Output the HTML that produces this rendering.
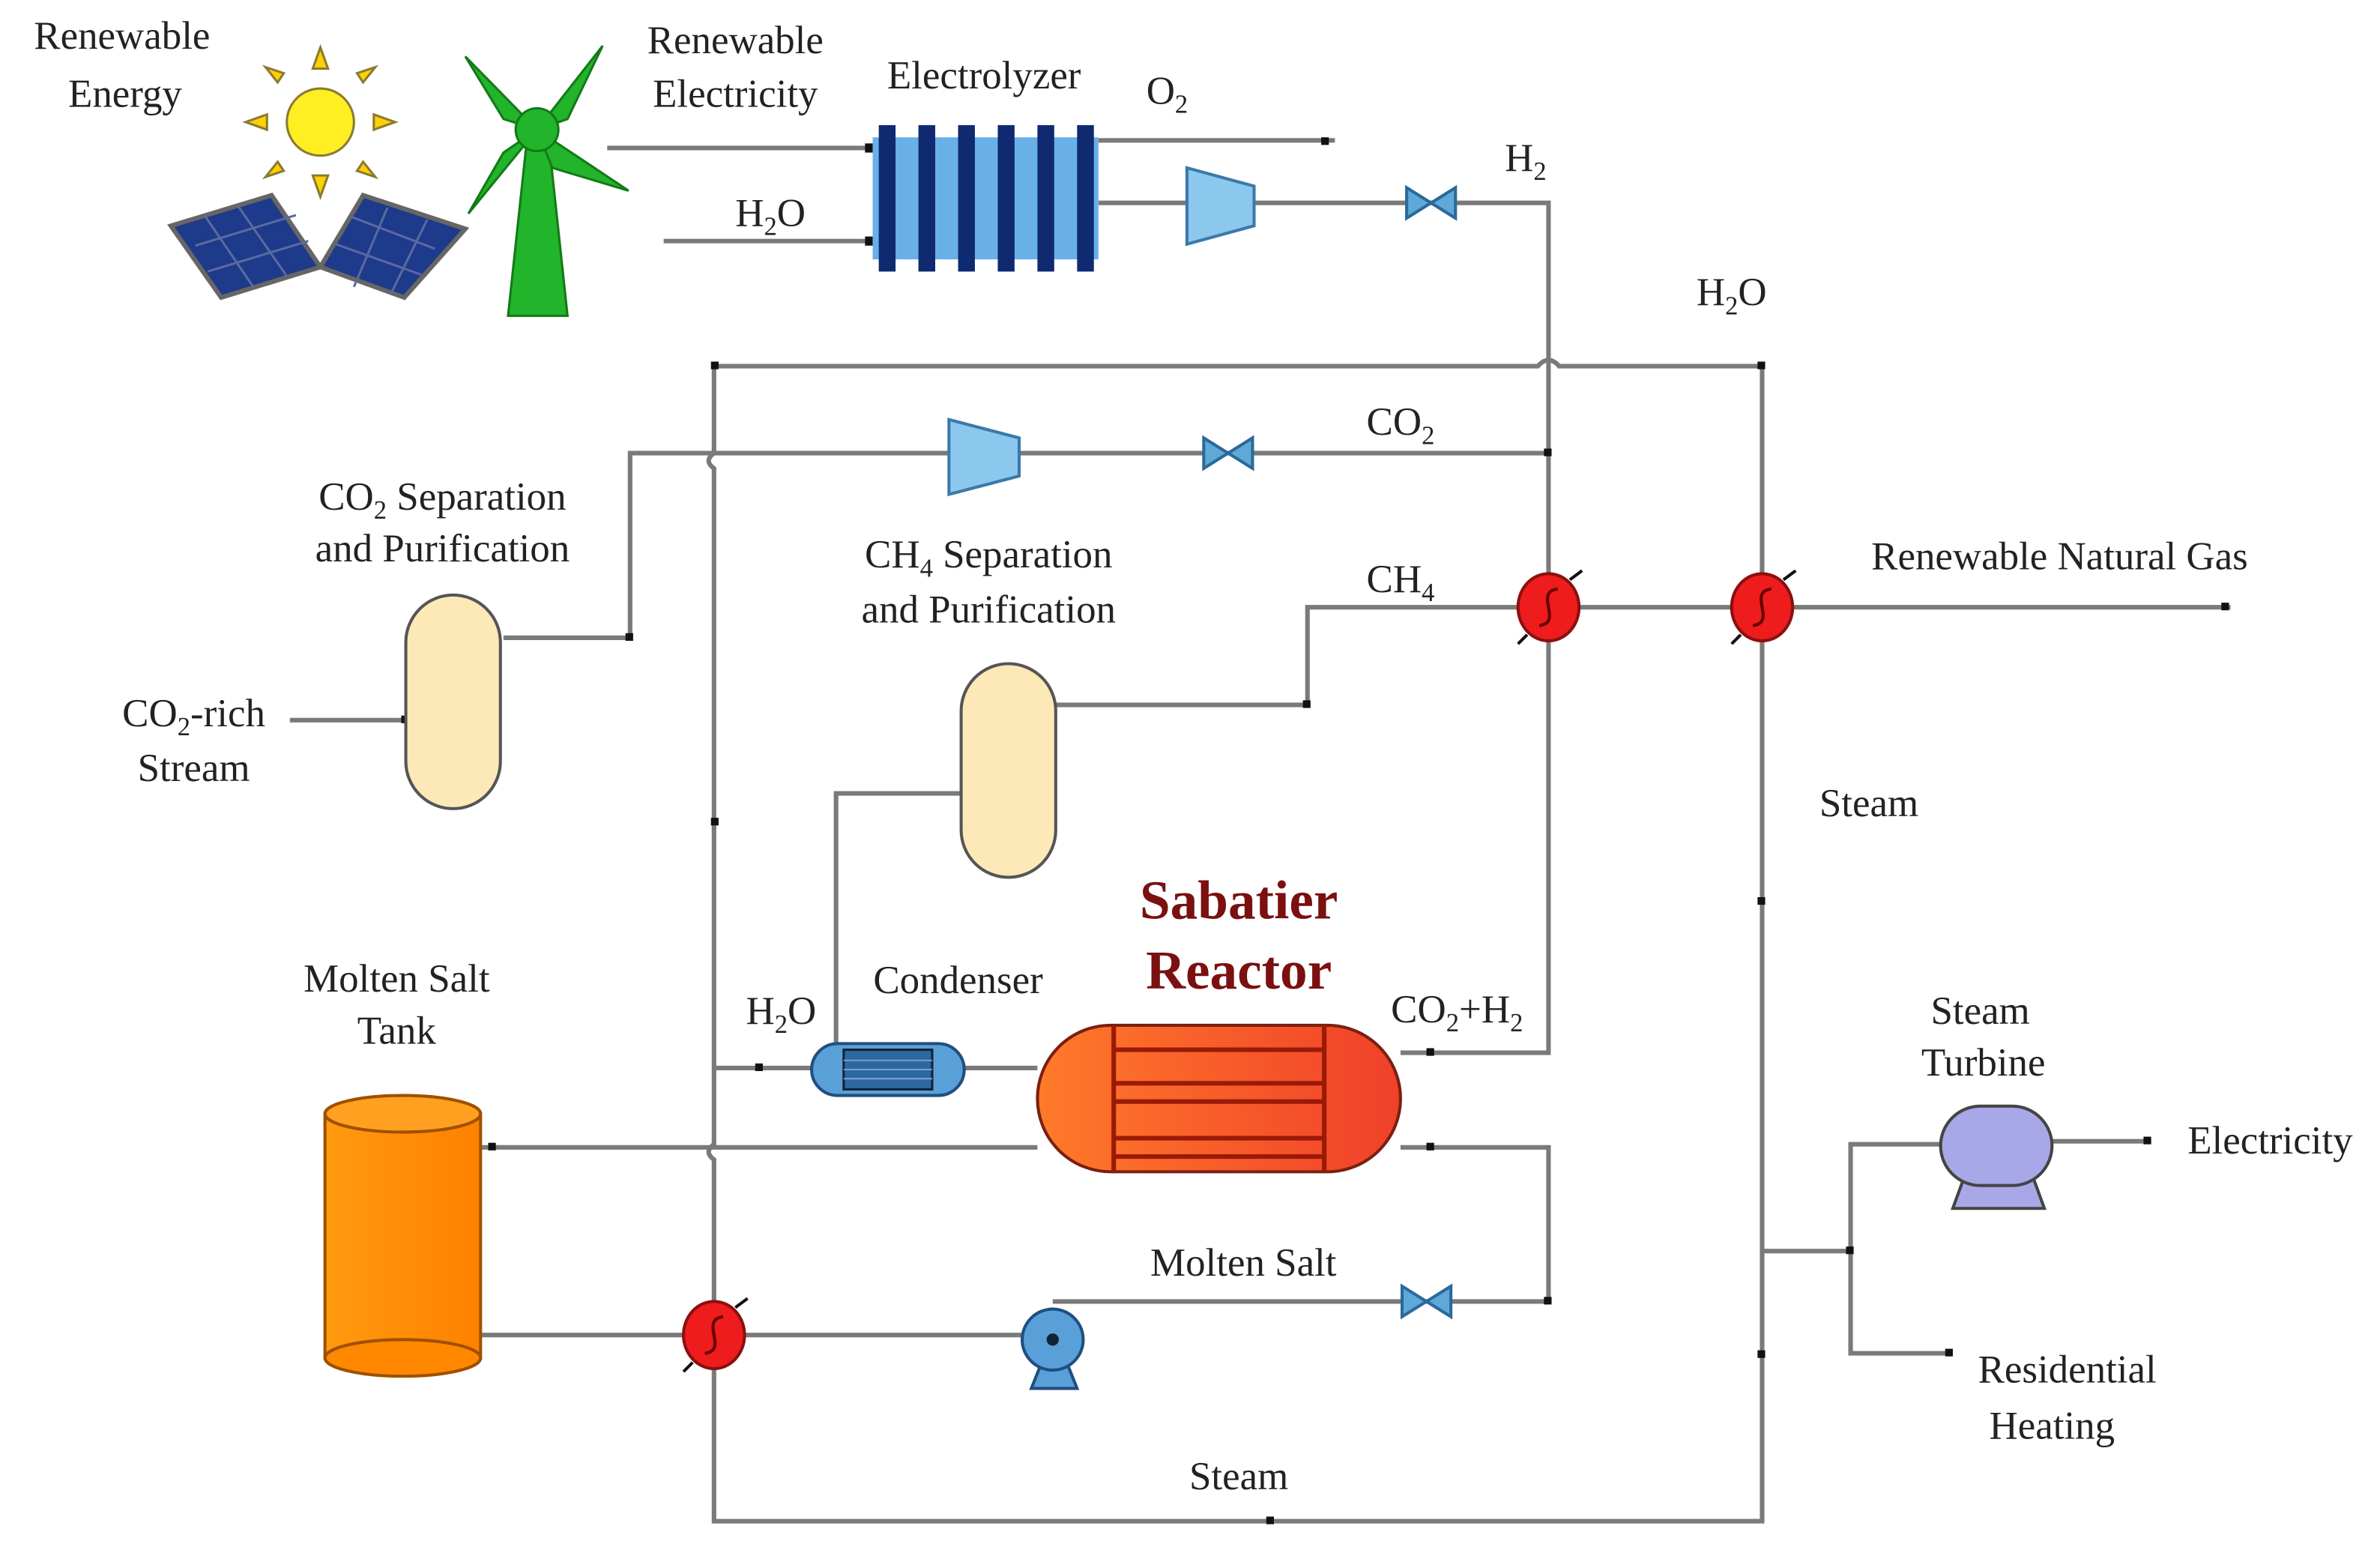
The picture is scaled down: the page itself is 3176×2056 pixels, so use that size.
<!DOCTYPE html>
<html><head><meta charset="utf-8"><style>
html,body{margin:0;padding:0;background:#fff;}
svg{display:block;}
text{font-family:"Liberation Serif",serif;font-size:26px;fill:#222;text-anchor:middle;}
.l{stroke:#7a7a7a;stroke-width:3;fill:none;}
</style></head><body>
<svg width="3176" height="2056" viewBox="0 0 1560 1010" preserveAspectRatio="none" xmlns="http://www.w3.org/2000/svg">
<defs>
<linearGradient id="rg" x1="0" x2="1"><stop offset="0" stop-color="#ff7a2a"/><stop offset="1" stop-color="#f0402a"/></linearGradient>
<linearGradient id="og" x1="0" x2="1"><stop offset="0" stop-color="#ff9a10"/><stop offset="1" stop-color="#ff8000"/></linearGradient>
<g id="hx"><ellipse cx="0" cy="0" rx="20" ry="22" fill="#ee1c1c" stroke="#8a1010" stroke-width="2"/><path d="M6,-12 C-10,-10 10,10 -6,12" stroke="#600" stroke-width="2" fill="none"/><path d="M14,-18 l8,-6 M-14,18 l-6,6" stroke="#111" stroke-width="2"/></g>
<g id="v"><path d="M-16,-10 L16,10 L16,-10 L-16,10 Z" fill="#5fa8d8" stroke="#2a6a9a" stroke-width="2"/></g>
</defs>

<text x="80" y="32">Renewable</text><text x="82" y="70">Energy</text>
<text x="482" y="35">Renewable</text><text x="482" y="70">Electricity</text>
<text x="645" y="58">Electrolyzer</text>
<text x="765" y="68">O<tspan font-size="17" dy="6">2</tspan></text>
<text x="1000" y="112">H<tspan font-size="17" dy="6">2</tspan></text>
<text x="505" y="148">H<tspan font-size="17" dy="6">2</tspan><tspan dy="-6">O</tspan></text>
<text x="1135" y="200">H<tspan font-size="17" dy="6">2</tspan><tspan dy="-6">O</tspan></text>
<text x="918" y="285">CO<tspan font-size="17" dy="6">2</tspan></text>
<text x="918" y="388">CH<tspan font-size="17" dy="6">4</tspan></text>
<text x="290" y="334">CO<tspan font-size="17" dy="6">2</tspan><tspan dy="-6"> Separation</tspan></text>
<text x="290" y="368">and Purification</text>
<text x="648" y="372">CH<tspan font-size="17" dy="6">4</tspan><tspan dy="-6"> Separation</tspan></text>
<text x="648" y="408">and Purification</text>
<text x="127" y="476">CO<tspan font-size="17" dy="6">2</tspan><tspan dy="-6">-rich</tspan></text>
<text x="127" y="512">Stream</text>
<text x="1350" y="373">Renewable Natural Gas</text>
<text x="1225" y="535">Steam</text>
<text x="812" y="602" style="font-size:36px;font-weight:bold;fill:#7a1010">Sabatier</text>
<text x="812" y="648" style="font-size:36px;font-weight:bold;fill:#7a1010">Reactor</text>
<text x="628" y="651">Condenser</text>
<text x="512" y="671">H<tspan font-size="17" dy="6">2</tspan><tspan dy="-6">O</tspan></text>
<text x="955" y="670">CO<tspan font-size="17" dy="6">2</tspan><tspan dy="-6">+H</tspan><tspan font-size="17" dy="6">2</tspan></text>
<text x="260" y="650">Molten Salt</text><text x="260" y="684">Tank</text>
<text x="1298" y="671">Steam</text><text x="1300" y="705">Turbine</text>
<text x="1488" y="756">Electricity</text>
<text x="815" y="836">Molten Salt</text>
<text x="1355" y="906">Residential</text><text x="1345" y="943">Heating</text>
<text x="812" y="976">Steam</text>

<path class="l" d="M398,97 H572 M435,158 H572"/>
<path class="l" d="M720,92 H875"/>
<path class="l" d="M720,133 H1015 V690 H918"/>
<path class="l" d="M468,240 H1008 q7,-8 14,0 H1155 V997 H468 V760 q-7,-5 0,-10 V307 q-7,-5 0,-10 V240"/>
<path class="l" d="M330,418 H413 V297 H1015"/>
<path class="l" d="M190,472 H266"/>
<path class="l" d="M692,462 H857 V398 H1462"/>
<path class="l" d="M548,684 V520 H630"/>
<path class="l" d="M532,700 H468 M632,700 H680"/>
<path class="l" d="M680,752 H315"/>
<path class="l" d="M918,752 H1015 V853 H690"/>
<path class="l" d="M315,875 H690"/>
<path class="l" d="M1155,820 H1213 M1272,750 H1213 V887 H1280 M1345,748 H1410"/>
<g fill="#111"><rect x="866" y="90" width="5" height="5"/><rect x="1012" y="294" width="5" height="5"/><rect x="1152" y="237" width="5" height="5"/><rect x="466" y="237" width="5" height="5"/><rect x="410" y="415" width="5" height="5"/><rect x="854" y="459" width="5" height="5"/><rect x="1456" y="395" width="5" height="5"/><rect x="1152" y="588" width="5" height="5"/><rect x="466" y="536" width="5" height="5"/><rect x="1152" y="885" width="5" height="5"/><rect x="830" y="994" width="5" height="5"/><rect x="1012" y="850" width="5" height="5"/><rect x="935" y="687" width="5" height="5"/><rect x="935" y="749" width="5" height="5"/><rect x="495" y="697" width="5" height="5"/><rect x="320" y="749" width="5" height="5"/><rect x="1210" y="817" width="5" height="5"/><rect x="1405" y="745" width="5" height="5"/><rect x="1275" y="884" width="5" height="5"/><rect x="263" y="469" width="5" height="5"/><rect x="567" y="94" width="5" height="6"/><rect x="567" y="155" width="5" height="6"/></g>

<g fill="#ffd000" stroke="#8a7a30" stroke-width="1.5">
<circle cx="210" cy="80" r="22" fill="#ffee22"/>
<path d="M205,45 l5,-14 l5,14z M205,115 l5,14 l5,-14z M175,75 l-14,5 l14,5z M245,75 l14,5 l-14,5z M182,54 l-8,-10 l12,4z M238,54 l8,-10 l-12,4z M182,106 l-8,10 l12,-4z M238,106 l8,10 l-12,-4z"/>
</g>
<g fill="#1e3a8a" stroke="#666" stroke-width="3">
<path d="M112,148 L178,128 L210,175 L145,195 Z"/>
<path d="M210,175 L238,128 L305,150 L265,195 Z"/>
</g>
<g stroke="#5a6aa0" stroke-width="1.5"><path d="M134,141 L166,188 M156,135 L188,181 M128,161 L194,141 M136,178 L202,158"/><path d="M230,142 L285,163 M220,160 L276,180 M254,136 L232,188 M280,144 L256,193"/></g>
<g fill="#22b42a" stroke="#137a18" stroke-width="1.5">
<path d="M333,207 L372,207 L360,95 L345,95 Z"/>
<path d="M352,85 L305,37 L330,78Z M352,85 L395,30 L372,78Z M352,85 L307,140 L330,100Z M352,85 L412,125 L362,110Z"/>
<circle cx="352" cy="85" r="14"/>
</g>
<rect x="572" y="90" width="148" height="80" fill="#6ab0e8"/>
<g fill="#0f2a70"><rect x="576" y="82" width="11" height="96"/><rect x="602" y="82" width="11" height="96"/><rect x="628" y="82" width="11" height="96"/><rect x="654" y="82" width="11" height="96"/><rect x="680" y="82" width="11" height="96"/><rect x="706" y="82" width="11" height="96"/></g>
<path d="M778,110 L822,122 L822,148 L778,160Z" fill="#8cc8ee" stroke="#3a7aaa" stroke-width="2"/>
<path d="M622,275 L668,287 L668,312 L622,324Z" fill="#8cc8ee" stroke="#3a7aaa" stroke-width="2"/>
<use href="#v" x="938" y="133"/><use href="#v" x="805" y="297"/><use href="#v" x="935" y="853"/>
<rect x="266" y="390" width="62" height="140" rx="31" fill="#fde9b8" stroke="#555" stroke-width="2"/>
<rect x="630" y="435" width="62" height="140" rx="31" fill="#fde9b8" stroke="#555" stroke-width="2"/>
<use href="#hx" x="1015" y="398"/><use href="#hx" x="1155" y="398"/><use href="#hx" x="468" y="875"/>
<rect x="532" y="684" width="100" height="34" rx="17" fill="#5aa0d8" stroke="#1f4f80" stroke-width="2"/>
<rect x="553" y="688" width="58" height="26" fill="#2a6aa0" stroke="#123" stroke-width="1.5"/>
<path d="M553,695 H611 M553,701 H611 M553,707 H611" stroke="#89c" stroke-width="1"/>
<rect x="680" y="672" width="238" height="96" rx="48" fill="url(#rg)" stroke="#7a2010" stroke-width="2"/>
<path d="M730,672 V768 M868,672 V768 M730,688 H868 M730,710 H868 M730,722 H868 M730,746 H868 M730,758 H868" stroke="#9a1a08" stroke-width="3"/>
<rect x="213" y="730" width="102" height="160" fill="url(#og)" stroke="#a05000" stroke-width="2"/>
<ellipse cx="264" cy="730" rx="51" ry="12" fill="#ffa020" stroke="#a05000" stroke-width="2"/>
<ellipse cx="264" cy="890" rx="51" ry="12" fill="#ff8800" stroke="#a05000" stroke-width="2"/>
<path d="M676,910 L706,910 L698,890 L684,890Z" fill="#5aa0d8" stroke="#1f4f80" stroke-width="2"/>
<circle cx="690" cy="878" r="20" fill="#5aa0d8" stroke="#1f4f80" stroke-width="2"/>
<circle cx="690" cy="878" r="4" fill="#123"/>
<path d="M1280,792 L1340,792 L1332,770 L1288,770Z" fill="#a8a8e8" stroke="#444" stroke-width="2"/>
<rect x="1272" y="725" width="73" height="52" rx="26" fill="#a8a8e8" stroke="#444" stroke-width="2"/>
</svg>
</body></html>
